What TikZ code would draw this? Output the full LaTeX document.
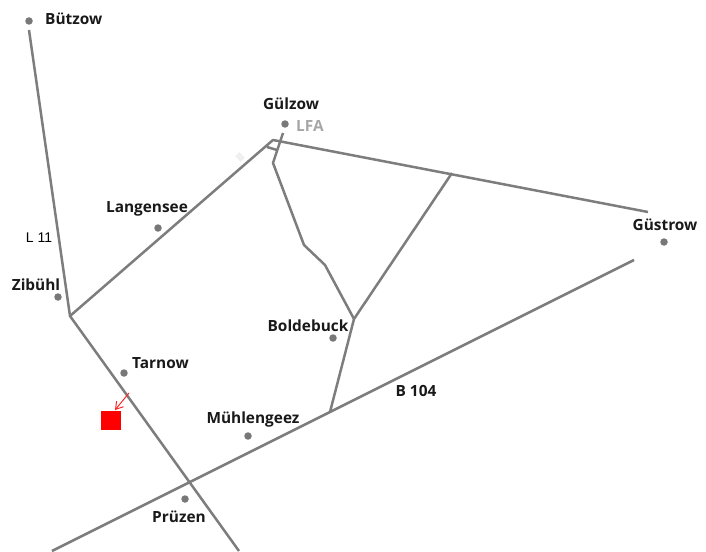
\documentclass[tikz,border=0pt]{standalone}
\usepackage{fontspec}
\setmainfont{Open Sans}
\newfontfamily\plainf{Liberation Sans}
\usetikzlibrary{arrows.meta}
\begin{document}
\begin{tikzpicture}[x=1pt,y=-1pt,
 road/.style={draw=roadgray,line width=2.5pt},
 dot/.style={circle,fill=dotgray,inner sep=0pt,minimum size=7.5pt},
 lab/.style={font=\bfseries\fontsize{15.4}{17}\selectfont,text=black!90,inner sep=0pt}]
\definecolor{roadgray}{RGB}{125,125,125}
\definecolor{dotgray}{RGB}{120,120,120}
\useasboundingbox (0,0) rectangle (706,551);
\foreach \n/\x/\y in {buetzow/29/21,guelzow/285/124,langensee/158/228,zibuehl/58/297,tarnow/124/373,boldebuck/333/338,muehlengeez/248/436,pruezen/185/499,guestrow/664/242}
 \node[dot] (\n) at (\x,\y) {};
\node[lab,anchor=west] at (45,19) {Bützow};
\node[lab] at (291,104) {Gülzow};
\node[lab,text=gray!70,anchor=west] at (296,126) {LFA};
\node[lab] at (147,209) {Langensee};
\node[font=\plainf\fontsize{14}{16}\selectfont,inner sep=0pt] at (39,238) {L 11};
\node[lab] at (36,285) {Zibühl};
\node[lab,anchor=west] at (132,363) {Tarnow};
\node[lab] at (308,326) {Boldebuck};
\node[lab] at (253,419) {Mühlengeez};
\node[lab] at (179,517) {Prüzen};
\node[lab] at (665,225) {Güstrow};
\node[lab] at (416,391) {B 104};
\coordinate (a) at (29,30);\coordinate (b) at (70,316);\coordinate (c) at (239,551);
\coordinate (d) at (273,140);\coordinate (e) at (648,212);\coordinate (f) at (452,173);
\coordinate (g) at (354,319);\coordinate (h) at (330,412);\coordinate (i) at (52,551);\coordinate (j) at (634,260);
\draw[road,line join=round] (a)--(b)--(c);
\draw[road,line join=round] (b)--(d)--(e);
\draw[road] (i)--(j);
\draw[road,line join=round] (f)--(g)--(h);
\draw[road,line join=round] (283,133)--(273,163)--(304,245)--(325,265)--(354,319);
\draw[road] (267,147)--(277,150);
\fill[gray!12,rotate around={-45:(240,157)}] (236,154) rectangle (244,160);
\fill[red] (101,411) rectangle (121,430);
\draw[red!85!white,-{Straight Barb[length=7pt,width=9pt]},line width=1pt] (129,393)--(115,410);
\end{tikzpicture}
\end{document}
